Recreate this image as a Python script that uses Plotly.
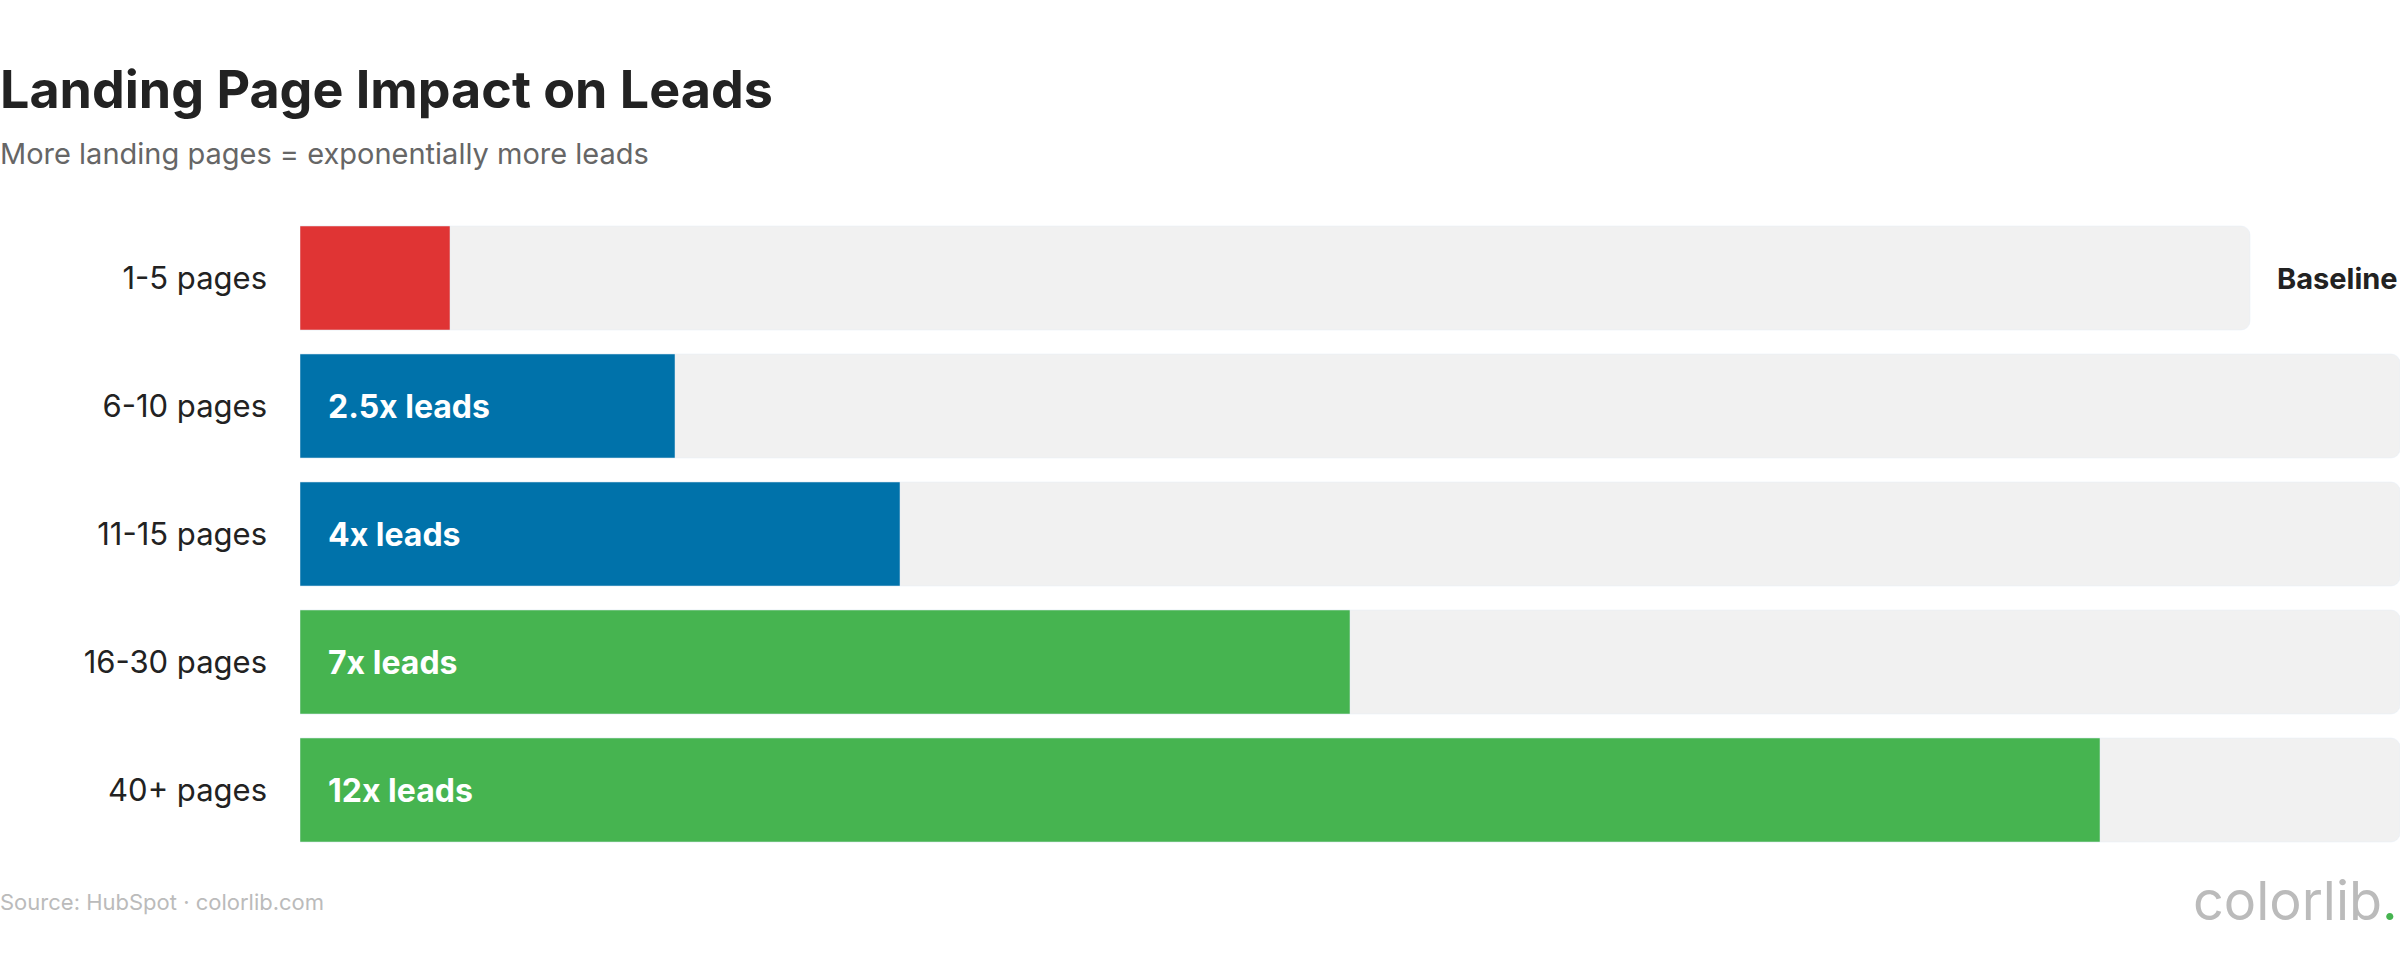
import plotly.graph_objects as go

categories = ["1-5 pages", "6-10 pages", "11-15 pages", "16-30 pages", "40+ pages"]
values = [1, 2.5, 4, 7, 12]
labels = ["", "2.5x leads", "4x leads", "7x leads", "12x leads"]
colors = ["#E03434", "#0072AA", "#0072AA", "#46B450", "#46B450"]
track = [13, 14, 14, 14, 14]

W, H = 2400, 958
fig = go.Figure()
fig.add_bar(y=categories, x=track, orientation="h", marker_color="#F1F1F1",
            hoverinfo="skip", showlegend=False)
fig.add_bar(y=categories, x=values, orientation="h", marker_color=colors,
            showlegend=False)

for c, t in zip(categories, labels):
    if t:
        fig.add_annotation(x=0, y=c, xref="x", yref="y", text=t, showarrow=False,
                           xanchor="left", xshift=26,
                           font=dict(family="Inter", size=32, color="white", weight="bold"))
fig.add_annotation(x=1, y=categories[0], xref="paper", yref="y", text="Baseline",
                   showarrow=False, xanchor="right",
                   font=dict(family="Inter", size=29, color="#222", weight="bold"))

fig.update_layout(
    width=W, height=H, paper_bgcolor="white", plot_bgcolor="white",
    margin=dict(l=300, r=0, t=214, b=104),
    barmode="overlay", bargap=0.1875, barcornerradius=9,
    xaxis=dict(range=[0, 14], visible=False, fixedrange=True),
    yaxis=dict(autorange="reversed", showgrid=False, zeroline=False, ticks="",
               ticklabelstandoff=32,
               tickfont=dict(family="Inter", size=31, color="#222")),
)

def pap(xpx, ypx, text, size, color, weight="normal", anchor="left"):
    x = (xpx - 300) / 2100
    y = (854 - ypx) / 640
    fig.add_annotation(x=x, y=y, xref="paper", yref="paper", text=text, showarrow=False,
                       xanchor=anchor, yanchor="middle",
                       font=dict(family="Inter", size=size, color=color, weight=weight))

pap(-2, 90, "Landing Page Impact on Leads", 52, "#222", "bold")
pap(-2, 153, "More landing pages = exponentially more leads", 29, "#666")
pap(-2, 902, "Source: HubSpot · colorlib.com", 22, "#BBB")
pap(2400, 900, "colorlib<span style='color:#46B450'>.</span>", 54, "#BBBBBB", "normal", "right")

fig.write_html("out.html", config={"displayModeBar": False},
               post_script="document.body.style.margin='0';")
